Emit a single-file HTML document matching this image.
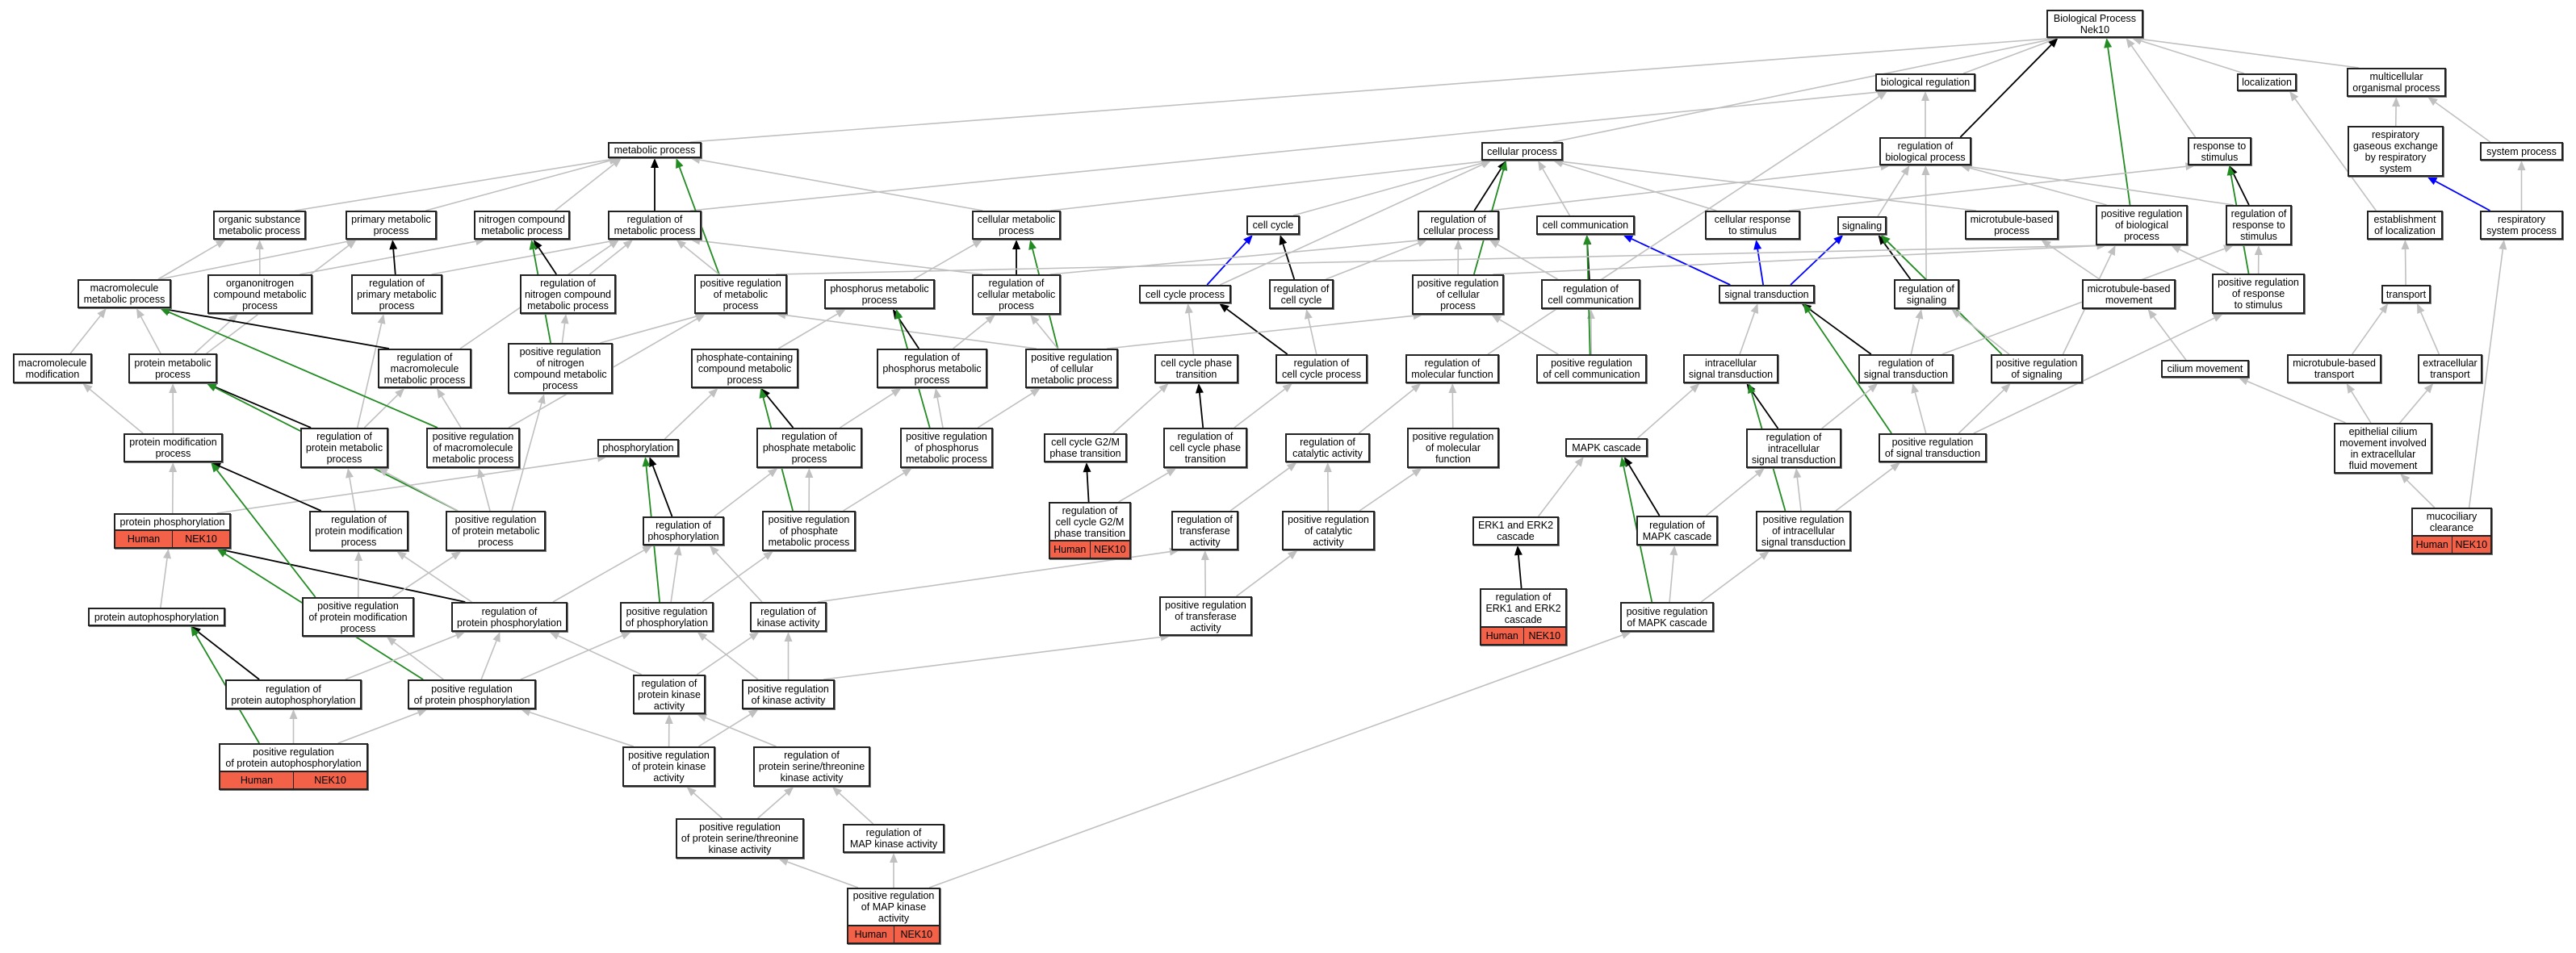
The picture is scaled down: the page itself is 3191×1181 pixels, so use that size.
<!DOCTYPE html>
<html><head><meta charset="utf-8">
<style>
html,body{margin:0;padding:0;background:#fff;}
body{width:3191px;height:1181px;position:relative;overflow:hidden;font-family:"Liberation Sans",Arial,sans-serif;}
svg{position:absolute;left:0;top:0;}
.n{position:absolute;box-sizing:border-box;border:2px solid #222;background:#fff;display:flex;align-items:center;justify-content:center;text-align:center;font-size:12.5px;line-height:14px;color:#000;white-space:nowrap;box-shadow:1px 1px 0 #777;}
.r{position:absolute;box-sizing:border-box;height:22px;border:2px solid #222;border-top:0;background:#f26148;display:flex;font-size:12.5px;line-height:20px;box-shadow:1px 1px 0 #777;}
.r span{flex:1;text-align:center;}
.r span:first-child{border-right:1.5px solid #222;}
</style></head><body>
<svg id="s" width="3191" height="1181"></svg>
<div class="n" id="bp" style="left:2535px;top:12px;width:120px;height:35px">Biological Process<br>Nek10</div>
<div class="n" id="breg" style="left:2323px;top:91px;width:124px;height:22px">biological regulation</div>
<div class="n" id="loc" style="left:2771px;top:91px;width:74px;height:22px">localization</div>
<div class="n" id="multi" style="left:2907px;top:84px;width:123px;height:36px">multicellular<br>organismal process</div>
<div class="n" id="rbp" style="left:2328px;top:170px;width:114px;height:35px">regulation of<br>biological process</div>
<div class="n" id="rts" style="left:2710px;top:170px;width:79px;height:35px">response to<br>stimulus</div>
<div class="n" id="rge" style="left:2908px;top:156px;width:119px;height:63px">respiratory<br>gaseous exchange<br>by respiratory<br>system</div>
<div class="n" id="sysp" style="left:3072px;top:176px;width:103px;height:23px">system process</div>
<div class="n" id="meta" style="left:753px;top:176px;width:116px;height:20px">metabolic process</div>
<div class="n" id="cellp" style="left:1835px;top:176px;width:101px;height:23px">cellular process</div>
<div class="n" id="osmp" style="left:264px;top:261px;width:115px;height:36px">organic substance<br>metabolic process</div>
<div class="n" id="pmp" style="left:428px;top:261px;width:113px;height:36px">primary metabolic<br>process</div>
<div class="n" id="ncmp" style="left:587px;top:261px;width:119px;height:36px">nitrogen compound<br>metabolic process</div>
<div class="n" id="rmp" style="left:753px;top:261px;width:116px;height:36px">regulation of<br>metabolic process</div>
<div class="n" id="cmp" style="left:1204px;top:261px;width:110px;height:36px">cellular metabolic<br>process</div>
<div class="n" id="cc" style="left:1544px;top:267px;width:66px;height:24px">cell cycle</div>
<div class="n" id="rcp" style="left:1756px;top:261px;width:101px;height:36px">regulation of<br>cellular process</div>
<div class="n" id="ccom" style="left:1903px;top:267px;width:122px;height:24px">cell communication</div>
<div class="n" id="crs" style="left:2112px;top:261px;width:118px;height:36px">cellular response<br>to stimulus</div>
<div class="n" id="sig" style="left:2276px;top:268px;width:61px;height:23px">signaling</div>
<div class="n" id="mbp" style="left:2434px;top:261px;width:116px;height:36px">microtubule-based<br>process</div>
<div class="n" id="prbp" style="left:2596px;top:254px;width:114px;height:50px">positive regulation<br>of biological<br>process</div>
<div class="n" id="rrs" style="left:2757px;top:254px;width:82px;height:50px">regulation of<br>response to<br>stimulus</div>
<div class="n" id="eol" style="left:2932px;top:261px;width:94px;height:36px">establishment<br>of localization</div>
<div class="n" id="rsp" style="left:3072px;top:261px;width:103px;height:36px">respiratory<br>system process</div>
<div class="n" id="mmp" style="left:96px;top:346px;width:116px;height:36px">macromolecule<br>metabolic process</div>
<div class="n" id="onmp" style="left:257px;top:340px;width:130px;height:49px">organonitrogen<br>compound metabolic<br>process</div>
<div class="n" id="rpmp" style="left:435px;top:340px;width:113px;height:49px">regulation of<br>primary metabolic<br>process</div>
<div class="n" id="rncmp" style="left:644px;top:340px;width:119px;height:49px">regulation of<br>nitrogen compound<br>metabolic process</div>
<div class="n" id="prmp" style="left:860px;top:340px;width:115px;height:49px">positive regulation<br>of metabolic<br>process</div>
<div class="n" id="phmp" style="left:1021px;top:346px;width:137px;height:37px">phosphorus metabolic<br>process</div>
<div class="n" id="rcmp" style="left:1204px;top:340px;width:110px;height:50px">regulation of<br>cellular metabolic<br>process</div>
<div class="n" id="ccp" style="left:1411px;top:353px;width:114px;height:23px">cell cycle process</div>
<div class="n" id="rcc" style="left:1572px;top:346px;width:80px;height:37px">regulation of<br>cell cycle</div>
<div class="n" id="prcp" style="left:1749px;top:340px;width:114px;height:50px">positive regulation<br>of cellular<br>process</div>
<div class="n" id="rccom" style="left:1909px;top:346px;width:123px;height:37px">regulation of<br>cell communication</div>
<div class="n" id="st" style="left:2129px;top:353px;width:119px;height:23px">signal transduction</div>
<div class="n" id="rsig" style="left:2346px;top:346px;width:81px;height:37px">regulation of<br>signaling</div>
<div class="n" id="mbm" style="left:2579px;top:346px;width:116px;height:37px">microtubule-based<br>movement</div>
<div class="n" id="prrs" style="left:2740px;top:339px;width:115px;height:50px">positive regulation<br>of response<br>to stimulus</div>
<div class="n" id="tr" style="left:2950px;top:353px;width:61px;height:23px">transport</div>
<div class="n" id="mm" style="left:16px;top:438px;width:98px;height:37px">macromolecule<br>modification</div>
<div class="n" id="prot" style="left:159px;top:438px;width:110px;height:37px">protein metabolic<br>process</div>
<div class="n" id="rmmp" style="left:468px;top:432px;width:116px;height:49px">regulation of<br>macromolecule<br>metabolic process</div>
<div class="n" id="prncmp" style="left:629px;top:425px;width:130px;height:63px">positive regulation<br>of nitrogen<br>compound metabolic<br>process</div>
<div class="n" id="pccmp" style="left:856px;top:432px;width:133px;height:49px">phosphate-containing<br>compound metabolic<br>process</div>
<div class="n" id="rphmp" style="left:1086px;top:432px;width:137px;height:49px">regulation of<br>phosphorus metabolic<br>process</div>
<div class="n" id="prcmp" style="left:1270px;top:432px;width:115px;height:49px">positive regulation<br>of cellular<br>metabolic process</div>
<div class="n" id="ccpt" style="left:1430px;top:439px;width:104px;height:36px">cell cycle phase<br>transition</div>
<div class="n" id="rccp" style="left:1580px;top:439px;width:114px;height:36px">regulation of<br>cell cycle process</div>
<div class="n" id="rmf" style="left:1741px;top:439px;width:116px;height:36px">regulation of<br>molecular function</div>
<div class="n" id="prcc" style="left:1903px;top:439px;width:137px;height:36px">positive regulation<br>of cell communication</div>
<div class="n" id="ist" style="left:2085px;top:439px;width:118px;height:36px">intracellular<br>signal transduction</div>
<div class="n" id="rst" style="left:2302px;top:439px;width:118px;height:36px">regulation of<br>signal transduction</div>
<div class="n" id="prsig" style="left:2466px;top:439px;width:114px;height:36px">positive regulation<br>of signaling</div>
<div class="n" id="cm" style="left:2677px;top:446px;width:109px;height:22px">cilium movement</div>
<div class="n" id="mbt" style="left:2833px;top:439px;width:117px;height:36px">microtubule-based<br>transport</div>
<div class="n" id="et" style="left:2995px;top:439px;width:80px;height:36px">extracellular<br>transport</div>
<div class="n" id="pmod" style="left:153px;top:537px;width:123px;height:36px">protein modification<br>process</div>
<div class="n" id="rprot" style="left:372px;top:530px;width:109px;height:50px">regulation of<br>protein metabolic<br>process</div>
<div class="n" id="prmmp" style="left:528px;top:530px;width:116px;height:50px">positive regulation<br>of macromolecule<br>metabolic process</div>
<div class="n" id="phos" style="left:740px;top:544px;width:101px;height:22px">phosphorylation</div>
<div class="n" id="rpccmp" style="left:937px;top:530px;width:131px;height:50px">regulation of<br>phosphate metabolic<br>process</div>
<div class="n" id="prphmp" style="left:1115px;top:530px;width:115px;height:50px">positive regulation<br>of phosphorus<br>metabolic process</div>
<div class="n" id="g2m" style="left:1293px;top:537px;width:103px;height:36px">cell cycle G2/M<br>phase transition</div>
<div class="n" id="rccpt" style="left:1441px;top:530px;width:104px;height:50px">regulation of<br>cell cycle phase<br>transition</div>
<div class="n" id="rca" style="left:1592px;top:537px;width:105px;height:36px">regulation of<br>catalytic activity</div>
<div class="n" id="prmf" style="left:1743px;top:530px;width:114px;height:50px">positive regulation<br>of molecular<br>function</div>
<div class="n" id="mapk" style="left:1939px;top:543px;width:102px;height:23px">MAPK cascade</div>
<div class="n" id="rist" style="left:2163px;top:531px;width:118px;height:49px">regulation of<br>intracellular<br>signal transduction</div>
<div class="n" id="prst" style="left:2327px;top:537px;width:134px;height:36px">positive regulation<br>of signal transduction</div>
<div class="n" id="ecm" style="left:2891px;top:524px;width:122px;height:63px">epithelial cilium<br>movement involved<br>in extracellular<br>fluid movement</div>
<div class="n" id="pphos" style="left:141px;top:636px;width:145px;height:22px">protein phosphorylation</div>
<div class="r" style="left:141px;top:658px;width:145px"><span>Human</span><span>NEK10</span></div>
<div class="n" id="rpmod" style="left:383px;top:633px;width:123px;height:50px">regulation of<br>protein modification<br>process</div>
<div class="n" id="prprot" style="left:552px;top:633px;width:124px;height:50px">positive regulation<br>of protein metabolic<br>process</div>
<div class="n" id="rphos" style="left:796px;top:640px;width:101px;height:36px">regulation of<br>phosphorylation</div>
<div class="n" id="prpccmp" style="left:944px;top:633px;width:116px;height:50px">positive regulation<br>of phosphate<br>metabolic process</div>
<div class="n" id="rg2m" style="left:1299px;top:622px;width:102px;height:49px">regulation of<br>cell cycle G2/M<br>phase transition</div>
<div class="r" style="left:1299px;top:671px;width:102px"><span>Human</span><span>NEK10</span></div>
<div class="n" id="rta" style="left:1451px;top:633px;width:83px;height:49px">regulation of<br>transferase<br>activity</div>
<div class="n" id="prca" style="left:1588px;top:633px;width:115px;height:49px">positive regulation<br>of catalytic<br>activity</div>
<div class="n" id="erk" style="left:1824px;top:640px;width:107px;height:36px">ERK1 and ERK2<br>cascade</div>
<div class="n" id="rmapk" style="left:2027px;top:639px;width:101px;height:37px">regulation of<br>MAPK cascade</div>
<div class="n" id="prist" style="left:2175px;top:633px;width:118px;height:50px">positive regulation<br>of intracellular<br>signal transduction</div>
<div class="n" id="mcc" style="left:2987px;top:629px;width:100px;height:36px">mucociliary<br>clearance</div>
<div class="r" style="left:2987px;top:665px;width:100px"><span>Human</span><span>NEK10</span></div>
<div class="n" id="prta" style="left:1436px;top:739px;width:115px;height:49px">positive regulation<br>of transferase<br>activity</div>
<div class="n" id="rerk" style="left:1833px;top:729px;width:108px;height:49px">regulation of<br>ERK1 and ERK2<br>cascade</div>
<div class="r" style="left:1833px;top:778px;width:108px"><span>Human</span><span>NEK10</span></div>
<div class="n" id="prmapk" style="left:2007px;top:746px;width:116px;height:37px">positive regulation<br>of MAPK cascade</div>
<div class="n" id="paut" style="left:109px;top:753px;width:170px;height:23px">protein autophosphorylation</div>
<div class="n" id="prpmod" style="left:374px;top:740px;width:139px;height:49px">positive regulation<br>of protein modification<br>process</div>
<div class="n" id="rpphos" style="left:559px;top:746px;width:144px;height:37px">regulation of<br>protein phosphorylation</div>
<div class="n" id="prphos" style="left:768px;top:746px;width:116px;height:37px">positive regulation<br>of phosphorylation</div>
<div class="n" id="rka" style="left:929px;top:746px;width:95px;height:37px">regulation of<br>kinase activity</div>
<div class="n" id="rpaut" style="left:279px;top:842px;width:169px;height:37px">regulation of<br>protein autophosphorylation</div>
<div class="n" id="prpphos" style="left:505px;top:842px;width:159px;height:37px">positive regulation<br>of protein phosphorylation</div>
<div class="n" id="rpka" style="left:784px;top:836px;width:90px;height:49px">regulation of<br>protein kinase<br>activity</div>
<div class="n" id="prka" style="left:919px;top:842px;width:115px;height:37px">positive regulation<br>of kinase activity</div>
<div class="n" id="prpaut" style="left:271px;top:921px;width:185px;height:36px">positive regulation<br>of protein autophosphorylation</div>
<div class="r" style="left:271px;top:957px;width:185px"><span>Human</span><span>NEK10</span></div>
<div class="n" id="prpka" style="left:771px;top:925px;width:115px;height:50px">positive regulation<br>of protein kinase<br>activity</div>
<div class="n" id="rpstka" style="left:933px;top:925px;width:145px;height:50px">regulation of<br>protein serine/threonine<br>kinase activity</div>
<div class="n" id="prpstka" style="left:837px;top:1014px;width:159px;height:50px">positive regulation<br>of protein serine/threonine<br>kinase activity</div>
<div class="n" id="rmapka" style="left:1044px;top:1021px;width:126px;height:36px">regulation of<br>MAP kinase activity</div>
<div class="n" id="prmapka" style="left:1049px;top:1100px;width:116px;height:48px">positive regulation<br>of MAP kinase<br>activity</div>
<div class="r" style="left:1049px;top:1148px;width:116px"><span>Human</span><span>NEK10</span></div>
<script>
var E="breg bp g;loc bp g;multi bp g;meta bp g;cellp bp g;rbp bp k;prbp bp G;rts bp g;rbp breg g;rge multi g;sysp multi g;rsp rge b;rsp sysp g;eol loc g;tr eol g;mbt tr g;et tr g;ecm mbt g;ecm et g;ecm cm g;mcc ecm g;mcc rsp g;cm mbm g;mbm mbp g;mbp cellp g;crs rts g;crs cellp g;rrs rts k;rrs rbp g;prrs rrs g;prrs rts G;prrs prbp g;prbp rbp g;sig rbp g;st sig b;st crs b;st ccom b;rsig sig k;rsig rbp g;prsig sig G;prsig rsig g;prsig prbp g;rst st k;rst rsig g;rst rrs g;prst st G;prst rst g;prst prsig g;prst prrs g;ist st g;rist ist k;rist rst g;prist ist G;prist rist g;prist prst g;mapk ist g;rmapk mapk k;rmapk rist g;prmapk mapk G;prmapk rmapk g;prmapk prist g;erk mapk g;rerk erk k;prmapka prmapk g;prmapka rmapka g;prmapka prpstka g;rmapka rpstka g;prpstka prpka g;prpstka rpstka g;rpstka rpka g;prpka rpka g;prpka prka g;prpka prpphos g;rpka rka g;rpka rpphos g;prka rka g;prka prphos g;prka prta g;rka rphos g;rka rta g;rta rca g;prta rta g;prta prca g;prca rca g;prca prmf g;rca rmf g;prmf rmf g;rmf breg g;ccom cellp g;rccom ccom k;rccom rcp g;prcc rccom g;prcc ccom G;prcc prcp g;rcp cellp k;rcp rbp g;prcp cellp G;prcp rcp g;prcp prbp g;cc cellp g;ccp cc b;ccp cellp g;rcc cc k;rcc rcp g;ccpt ccp g;rccp ccp k;rccp rcc g;rccpt ccpt k;rccpt rccp g;g2m ccpt g;rg2m g2m k;rg2m rccpt g;cmp meta g;cmp cellp g;rcmp cmp k;rcmp rcp g;rcmp rmp g;prcmp cmp G;prcmp rcmp g;prcmp prcp g;prcmp prmp g;phmp cmp g;rphmp phmp k;rphmp rcmp g;prphmp phmp G;prphmp rphmp g;prphmp prcmp g;pccmp phmp g;rpccmp pccmp k;rpccmp rphmp g;prpccmp pccmp G;prpccmp rpccmp g;prpccmp prphmp g;phos pccmp g;rphos phos k;rphos rpccmp g;prphos phos G;prphos rphos g;prphos prpccmp g;rpphos rphos g;rpphos pphos k;rpphos rpmod g;prpphos rpphos g;prpphos prphos g;prpphos pphos G;prpphos prpmod g;pphos phos g;pphos pmod g;paut pphos g;rpaut paut k;rpaut rpphos g;prpaut paut G;prpaut rpaut g;prpaut prpphos g;pmod prot g;pmod mm g;rpmod pmod k;rpmod rprot g;prpmod pmod G;prpmod rpmod g;prpmod prprot g;prot mmp g;prot onmp g;prot pmp g;rprot prot k;rprot rmmp g;rprot rpmp g;prprot prot G;prprot rprot g;prprot prmmp g;prprot prncmp g;mm mmp g;mmp osmp g;mmp pmp g;rmmp mmp k;rmmp rmp g;prmmp mmp G;prmmp rmmp g;prmmp prmp g;onmp osmp g;onmp ncmp g;osmp meta g;pmp meta g;ncmp meta g;rmp meta k;rmp breg g;prmp meta G;prmp rmp g;prmp prbp g;rpmp pmp k;rpmp rmp g;rncmp ncmp k;rncmp rmp g;prncmp ncmp G;prncmp rncmp g;prncmp prmp g";
var C={g:"#c0c0c0",k:"#000",G:"#228b22",b:"#0000ff"};
var s=document.getElementById("s"),NS="http://www.w3.org/2000/svg";
function box(id){var e=document.getElementById(id);var h=e.offsetHeight;var nx=e.nextElementSibling;if(nx&&nx.className=="r")h+=22;return{x:e.offsetLeft,y:e.offsetTop,w:e.offsetWidth,h:h,mh:e.offsetHeight};}
function clip(b,tx,ty){var cx=b.x+b.w/2,cy=b.y+b.h/2,dx=tx-cx,dy=ty-cy;var t=Math.min(dx?b.w/2/Math.abs(dx):1e9,dy?b.h/2/Math.abs(dy):1e9);return[cx+dx*t,cy+dy*t];}
function cl(v,m){return Math.max(-m,Math.min(m,v));}
E.split(";").forEach(function(r){var p=r.split(" ");var a=box(p[0]),b=box(p[1]),col=C[p[2]];
var ac=[a.x+a.w/2,a.y+a.h/2],bc=[b.x+b.w/2,b.y+b.h/2],s0,e0;
if(b.y+b.h<a.y-8){
 s0=[ac[0]+cl((bc[0]-ac[0])*0.25,a.w*0.38),a.y];
 e0=[bc[0]+cl((ac[0]-bc[0])*0.25,b.w*0.38),b.y+b.h];
}else{s0=clip(a,bc[0],bc[1]);e0=clip(b,ac[0],ac[1]);}
var dx=e0[0]-s0[0],dy=e0[1]-s0[1],L=Math.sqrt(dx*dx+dy*dy)||1,ux=dx/L,uy=dy/L,al=12,aw=5;
var bx=e0[0]-ux*al,by=e0[1]-uy*al;
var l=document.createElementNS(NS,"line");l.setAttribute("x1",s0[0]);l.setAttribute("y1",s0[1]);l.setAttribute("x2",bx);l.setAttribute("y2",by);l.setAttribute("stroke",col);l.setAttribute("stroke-width",p[2]=="g"?1.6:1.8);s.appendChild(l);
var g=document.createElementNS(NS,"polygon");g.setAttribute("points",e0[0]+","+e0[1]+" "+(bx-uy*aw)+","+(by+ux*aw)+" "+(bx+uy*aw)+","+(by-ux*aw));g.setAttribute("fill",col);s.appendChild(g);});
</script>
</body></html>
